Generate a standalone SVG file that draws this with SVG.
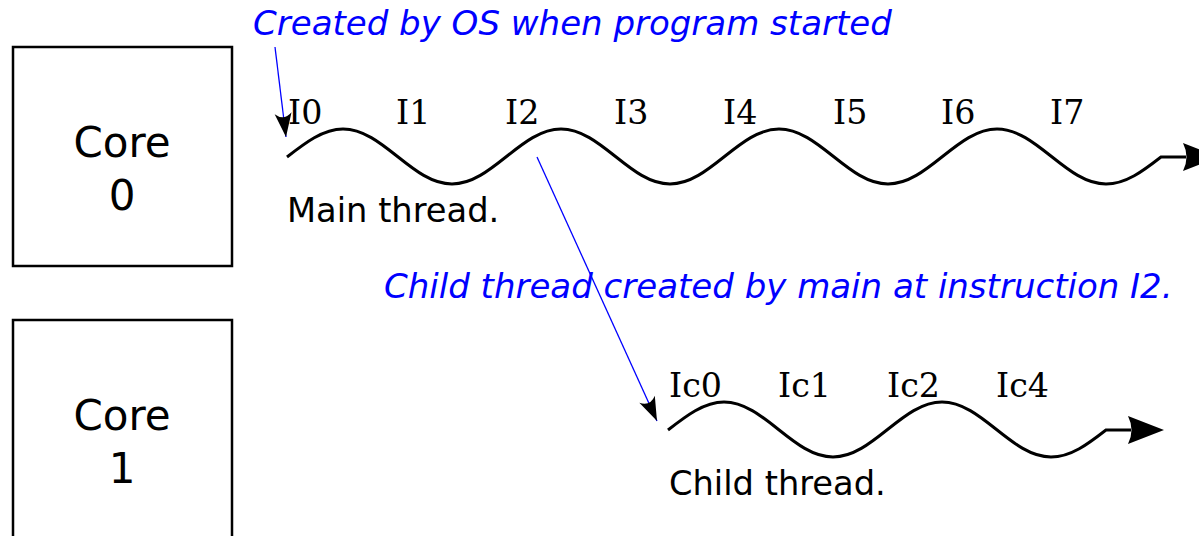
<svg xmlns="http://www.w3.org/2000/svg" width="1199" height="536" viewBox="0 0 1199 536">
<defs>
<style>
.box{fill:#fff;stroke:#000;stroke-width:2.5}
.core{font-family:"DejaVu Sans",sans-serif;font-size:42px;fill:#000;text-anchor:middle}
.lbl{font-family:"DejaVu Sans",sans-serif;font-size:33.7px;fill:#000}
.ins{font-family:"DejaVu Serif",serif;font-size:33.3px;fill:#000}
.note{font-family:"DejaVu Sans",sans-serif;font-style:italic;font-size:34px;fill:#0000ff}
.wave{fill:none;stroke:#000;stroke-width:3}
.ptr{fill:none;stroke:#0000ff;stroke-width:1.3}
</style>
<marker id="big" markerUnits="userSpaceOnUse" orient="auto" markerWidth="40" markerHeight="32" refX="0" refY="0" viewBox="-5 -16 40 32" overflow="visible">
<path d="M33,0 L-3,-14 Q4,0 -3,14 Z" fill="#000"/>
</marker>
<marker id="small" markerUnits="userSpaceOnUse" orient="auto" markerWidth="30" markerHeight="20" refX="0" refY="0" viewBox="-25 -10 30 20" overflow="visible">
<path d="M0,0 L-24,-8.5 Q-16,0 -24,8.5 Z" fill="#000"/>
</marker>
</defs>
<rect width="1199" height="536" fill="#fff"/>
<g id="core0">
<rect class="box" x="13" y="47" width="219" height="219"/>
<text class="core" x="122" y="157">Core</text>
<text class="core" x="122" y="210">0</text>
</g>
<g id="core1">
<rect class="box" x="13" y="320" width="219" height="230"/>
<text class="core" x="122" y="430">Core</text>
<text class="core" x="122" y="483">1</text>
</g>
<g id="main-thread">
<text class="ins" x="288" y="124">I0</text>
<text class="ins" x="396" y="124">I1</text>
<text class="ins" x="505" y="124">I2</text>
<text class="ins" x="614" y="124">I3</text>
<text class="ins" x="723" y="124">I4</text>
<text class="ins" x="833" y="124">I5</text>
<text class="ins" x="941" y="124">I6</text>
<text class="ins" x="1050" y="124">I7</text>
<text class="lbl" x="287" y="222">Main thread.</text>
</g>
<g id="child-thread">
<text class="ins" x="669" y="397">Ic0</text>
<text class="ins" x="778" y="397">Ic1</text>
<text class="ins" x="887" y="397">Ic2</text>
<text class="ins" x="996" y="397">Ic4</text>
<text class="lbl" x="669" y="495">Child thread.</text>
</g>
<g id="notes">
<text class="note" x="253" y="35">Created by OS when program started</text>
<text class="note" x="384" y="298">Child thread created by main at instruction I2.</text>
</g>
<g id="connectors">
<path class="wave" marker-end="url(#big)" d="M287,157 C305,143 323,129 343,129 C383,129 412,184 452,184 C492,184 521,129 561,129 C601,129 630,184 670,184 C710,184 739,129 779,129 C819,129 848,184 888,184 C928,184 957,129 997,129 C1037,129 1066,184 1106,184 C1126,184 1143,171 1161,157 L1186,157"/>
<path class="wave" marker-end="url(#big)" d="M668,430 C686,416 704,402 724,402 C764,402 793,457 833,457 C873,457 902,402 942,402 C982,402 1011,457 1051,457 C1071,457 1088,444 1106,430 L1131,430"/>
<path class="ptr" marker-end="url(#small)" d="M275,47 L286,137"/>
<path class="ptr" marker-end="url(#small)" d="M537,157 L657,421"/>
</g>
</svg>
